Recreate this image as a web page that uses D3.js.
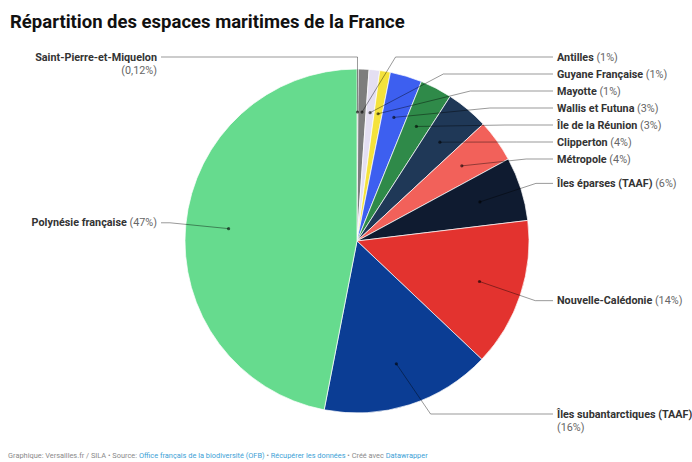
<!DOCTYPE html>
<html>
<head>
<meta charset="utf-8">
<script src="https://cdn.jsdelivr.net/npm/d3@7"></script>
<style>
  body { margin: 0; background: #fff; font-family: Roboto, "Noto Sans", sans-serif; }
</style>
</head>
<body>
<div id="chart"></div>
<script>
// territoires, dans l'ordre du camembert (sens horaire depuis midi)
const territories = [
  "Saint-Pierre-et-Miquelon", "Antilles", "Guyane Française", "Mayotte",
  "Wallis et Futuna", "Île de la Réunion", "Clipperton", "Métropole",
  "Îles éparses (TAAF)", "Nouvelle-Calédonie", "Îles subantarctiques (TAAF)",
  "Polynésie française"
];
const shares = [0.12, 1, 1, 1, 3, 3, 4, 4, 6, 14, 16, 47];
const shareLabels = ["0,12%", "1%", "1%", "1%", "3%", "3%", "4%", "4%", "6%", "14%", "16%", "47%"];
const colors = [
  "#555555", "#7d7d7d", "#e4dff2", "#f4e23c", "#3d5ff0", "#2f8a49",
  "#1f3857", "#f2615a", "#0f1b30", "#e3332f", "#0b3d94", "#66db8e"
];

const width = 692;
const height = 462;
const cx = 357, cy = 241, r = 172;
const elbowR = 188;      // rayon où les lignes de rappel se coudent
const labelR = 190;      // rayon "naturel" des étiquettes
const lineGap = 17;
const labelTop = 57, labelBottom = 414;
const rightX = 557, leftX = 157;

const svg = d3.select("#chart").append("svg")
    .attr("width", width)
    .attr("height", height)
    .style("display", "block");

// titre
svg.append("text")
    .attr("x", 10)
    .attr("y", 28)
    .attr("font-size", 18.5)
    .attr("font-weight", 700)
    .attr("fill", "#111")
    .text("Répartition des espaces maritimes de la France");

const pie = d3.pie().sort(null).value(d => d);
const arcs = pie(shares);
const arc = d3.arc().innerRadius(0).outerRadius(r);
const dotArc = d3.arc().innerRadius(r * 0.75).outerRadius(r * 0.75);

const g = svg.append("g").attr("transform", `translate(${cx},${cy})`);

g.selectAll("path")
  .data(arcs)
  .join("path")
    .attr("d", arc)
    .attr("fill", (d, i) => colors[i])
    .attr("stroke", "#fff")
    .attr("stroke-width", 0.7);

// placement des étiquettes
const labels = arcs.map((d, i) => {
  const mid = (d.startAngle + d.endAngle) / 2;
  // la toute petite première part est envoyée à gauche
  const side = (mid > Math.PI || i === 0) ? "left" : "right";
  return {
    i, d, mid, side,
    natY: cy - labelR * Math.cos(mid),
    dot: dotArc.centroid(d).map((v, k) => v + (k ? cy : cx))
  };
});

["left", "right"].forEach(side => {
  const list = labels.filter(l => l.side === side).sort((a, b) => a.natY - b.natY);
  list.forEach((l, k) => {
    l.y = Math.max(l.natY, labelTop, k ? list[k - 1].y + lineGap : -Infinity);
  });
  for (let k = list.length - 1; k >= 0; k--) {
    const l = list[k];
    l.y = Math.min(l.y, labelBottom, k < list.length - 1 ? list[k + 1].y - lineGap : Infinity);
  }
});

labels.forEach(l => {
  const dy = l.y - cy;
  const s = l.side === "right" ? 1 : -1;
  let ex = Math.abs(dy) < elbowR ? cx + s * Math.sqrt(elbowR * elbowR - dy * dy) : cx;
  if (l.side === "left" && Math.abs(dy) > r) ex = Math.max(ex, l.dot[0]);
  l.elbow = [ex, l.y];
  l.end = [l.side === "right" ? rightX - 4 : leftX + 4, l.y];
});

// lignes de rappel
svg.append("g")
  .selectAll("path")
  .data(labels)
  .join("path")
    .attr("d", l => d3.line()([l.dot, l.elbow, l.end]))
    .attr("fill", "none")
    .attr("stroke", "#000")
    .attr("stroke-opacity", 0.4)
    .attr("stroke-width", 1);

svg.append("g")
  .selectAll("circle")
  .data(labels)
  .join("circle")
    .attr("cx", l => l.dot[0])
    .attr("cy", l => l.dot[1])
    .attr("r", 1.6)
    .attr("fill", "#000")
    .attr("fill-opacity", 0.6);

// textes des étiquettes
const texts = svg.append("g")
    .attr("font-size", 10.8)
  .selectAll("text")
  .data(labels)
  .join("text")
    .attr("x", l => l.side === "right" ? rightX : leftX)
    .attr("y", l => l.y + 3.7)
    .attr("text-anchor", l => l.side === "right" ? "start" : "end");

texts.append("tspan")
    .attr("font-weight", 700)
    .attr("fill", "#333")
    .text(l => territories[l.i]);

texts.append("tspan")
    .attr("fill", "#666")
    .text(l => ` (${shareLabels[l.i]})`);

// retour à la ligne si l'étiquette déborde
texts.each(function(l) {
  const maxW = l.side === "right" ? width - rightX - 2 : leftX - 10;
  if (this.getComputedTextLength() > maxW) {
    d3.select(this).select("tspan:last-child")
        .attr("x", l.side === "right" ? rightX : leftX)
        .attr("dy", 13.5)
        .text(`(${shareLabels[l.i]})`);
  }
});

// pied de page
const foot = svg.append("text")
    .attr("x", 8)
    .attr("y", 458)
    .attr("font-size", 7.4)
    .attr("fill", "#8a8a8a");
const footParts = [
  ["Graphique: Versailles.fr / SILA • Source: ", false],
  ["Office français de la biodiversité (OFB)", true],
  [" • ", false],
  ["Récupérer les données", true],
  [" • Créé avec ", false],
  ["Datawrapper", true]
];
footParts.forEach(([t, link]) => {
  foot.append("tspan").attr("fill", link ? "#3d9fd6" : "#8a8a8a").text(t);
});
</script>
</body>
</html>
